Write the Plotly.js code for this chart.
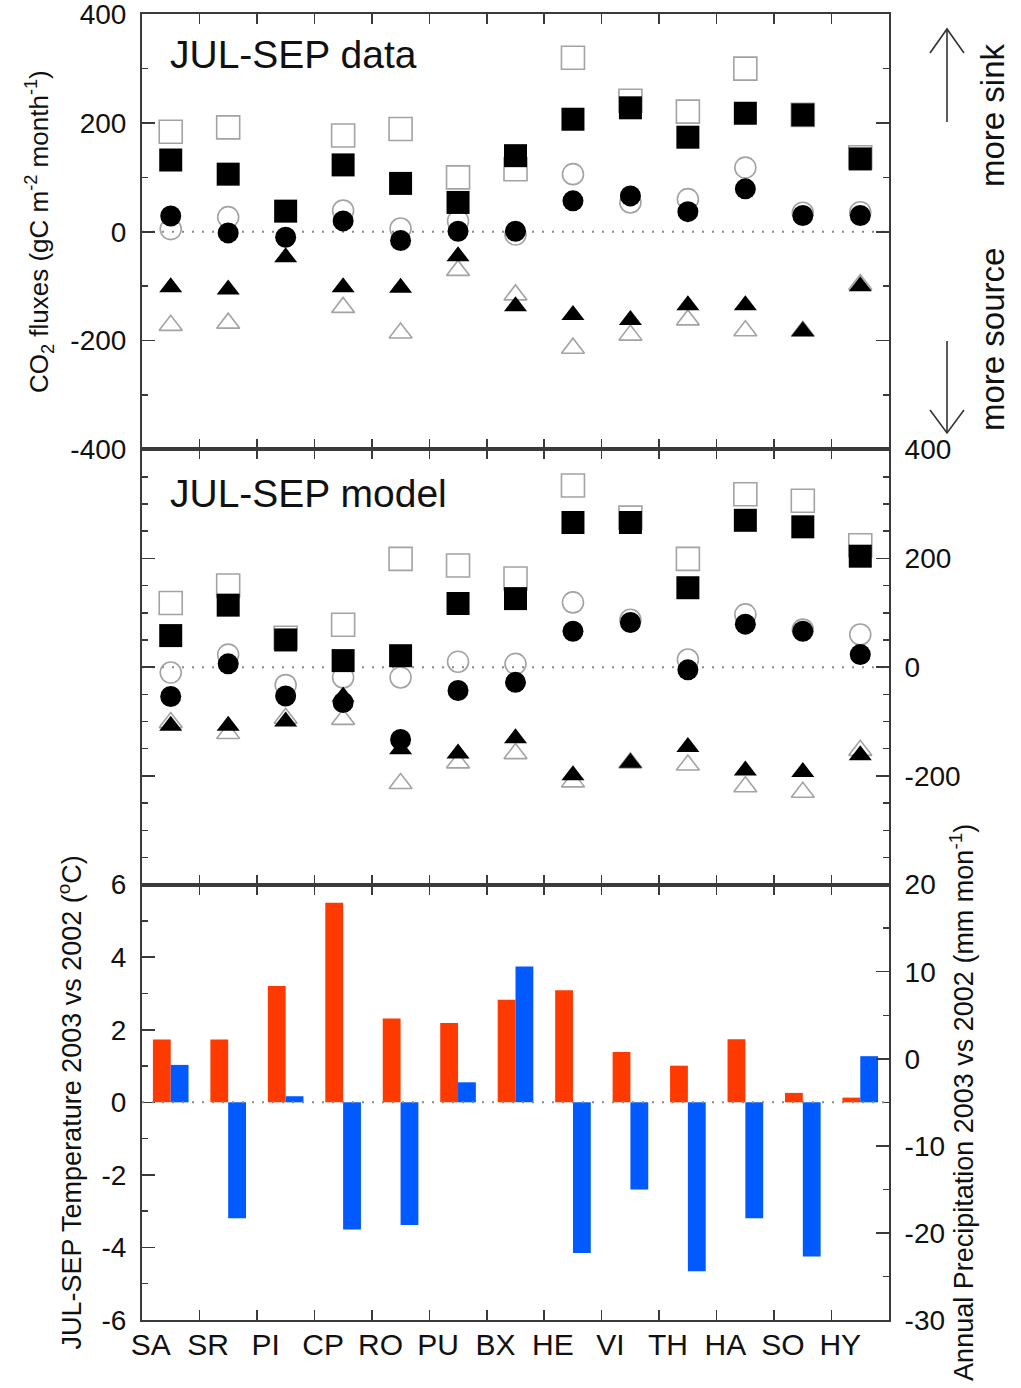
<!DOCTYPE html>
<html><head><meta charset="utf-8">
<script src="https://cdn.plot.ly/plotly-3.0.1.min.js"></script>
<style>html,body{margin:0;padding:0;background:#fff}</style>
</head><body>
<div id="chart" style="width:1021px;height:1388px"></div>
<script>
// ---- data ----
const sites = ['SA','SR','PI','CP','RO','PU','BX','HE','VI','TH','HA','SO','HY'];

// JUL-SEP data (gC m-2 month-1); open = 2002, filled = 2003
const dataSquareOpen   = [184, 192, null, 177, 189, 100, 115, 320, 241, 221, 300, 215, 137];
const dataSquareFilled = [132, 106, 38, 123, 89, 54, 140, 207, 228, 174, 218, 215, 134];
const dataCircleOpen   = [5, 27, null, 39, 6, 20, -5, 106, 54, 60, 118, 35, 36];
const dataCircleFilled = [29, -2, -10, 20, -16, 1, 1, 57, 66, 37, 79, 30, 30];
const dataTriOpen      = [-172, -168, null, -139, -186, -71, -116, -214, -190, -162, -182, -183, -97];
const dataTriFilled    = [-102, -106, -47, -102, -103, -45, -137, -153, -162, -135, -135, -183, -100];

// JUL-SEP model
const modelSquareOpen   = [118, 150, 54, 78, 199, 187, 163, 334, 275, 199, 318, 306, 224];
const modelSquareFilled = [58, 114, 50, 12, 21, 117, 126, 266, 266, 146, 270, 258, 204];
const modelCircleOpen   = [-10, 23, -33, -19, -19, 10, 6, 119, 87, 14, 97, 69, 60];
const modelCircleFilled = [-54, 6, -53, -65, -133, -43, -28, 66, 82, -5, 79, 66, 23];
const modelTriOpen      = [-102, -122, -94, -96, -214, -176, -159, -211, -176, -180, -220, -230, -153];
const modelTriFilled    = [-108, -108, -100, -54, -151, -159, -131, -199, -176, -147, -190, -193, -162];

// Anomalies 2003 vs 2002
const tempAnomaly   = [1.73, 1.73, 3.21, 5.5, 2.31, 2.19, 2.83, 3.09, 1.39, 1.01, 1.74, 0.26, 0.13];
const precipAnomaly = [-0.7, -18.3, -4.3, -19.6, -19.1, -2.7, 10.6, -22.3, -15.0, -24.4, -18.3, -22.7, 0.3];
const precipBase = -5; // precipitation bars are drawn from the temperature zero line

// tick values
const fluxTicksLeft  = [-400, -200, 0, 200, 400];
const fluxTicksRight = [-200, 0, 200, 400];
const tempTicks      = [-6, -4, -2, 0, 2, 4, 6];
const precipTicks    = [-30, -20, -10, 0, 10, 20];
const lbl = arr => arr.map(v => String(v)); // plain hyphen-minus labels

// ---- styling ----
const FONT = 'Liberation Sans, Arial, Helvetica, sans-serif';
const AX = '#3a3a3a';
const GRAY = '#a3a3a3';
const W = 1021, H = 1388, L = 142, R = 132, T = 14, B = 68;
const PW = W - L - R, PH = H - T - B;
const px = x => (x - L) / PW;
const py = y => (H - B - y) / PH;

function sc(y, xa, ya, symbol, open, size) {
  return {
    type: 'scatter', mode: 'markers', x: sites, y: y, xaxis: xa, yaxis: ya,
    cliponaxis: false, hoverinfo: 'skip', showlegend: false,
    marker: open
      ? {symbol: symbol + '-open', size: size, color: GRAY, line: {color: GRAY, width: 1.6}}
      : {symbol: symbol, size: size, color: '#000', line: {color: '#000', width: 0}}
  };
}

const traces = [
  sc(dataSquareOpen, 'x2', 'y', 'square', true, 23),
  sc(dataCircleOpen, 'x2', 'y', 'circle', true, 21),
  sc(dataTriOpen, 'x2', 'y', 'triangle-up', true, 20),
  sc(dataSquareFilled, 'x2', 'y', 'square', false, 23),
  sc(dataCircleFilled, 'x2', 'y', 'circle', false, 21),
  sc(dataTriFilled, 'x2', 'y', 'triangle-up', false, 20),
  sc(modelSquareOpen, 'x3', 'y2', 'square', true, 23),
  sc(modelCircleOpen, 'x3', 'y2', 'circle', true, 21),
  sc(modelTriOpen, 'x3', 'y2', 'triangle-up', true, 20),
  sc(modelSquareFilled, 'x3', 'y2', 'square', false, 23),
  sc(modelCircleFilled, 'x3', 'y2', 'circle', false, 21),
  sc(modelTriFilled, 'x3', 'y2', 'triangle-up', false, 20),
  {type: 'bar', x: sites, y: tempAnomaly, xaxis: 'x', yaxis: 'y3',
   offset: -0.31, width: 0.31, marker: {color: '#ff3a00', line: {width: 0}},
   hoverinfo: 'skip', showlegend: false},
  {type: 'bar', x: sites, y: precipAnomaly.map(v => v - precipBase), base: precipBase,
   xaxis: 'x', yaxis: 'y4',
   offset: 0, width: 0.31, marker: {color: '#005aff', line: {width: 0}},
   hoverinfo: 'skip', showlegend: false}
];

const tickFont = {family: FONT, size: 28, color: '#111'};
const titleFont = {family: FONT, size: 27, color: '#111'};

const commonX = {
  type: 'category', categoryarray: sites, categoryorder: 'array', range: [-0.5, 12.5],
  showline: true, linecolor: AX, linewidth: 2, mirror: 'ticks',
  ticks: 'inside', tickson: 'boundaries', ticklen: 10, tickcolor: AX, tickwidth: 1.5,
  showgrid: false, zeroline: false, fixedrange: true
};
const commonY = {
  showline: true, linecolor: AX, linewidth: 2,
  ticks: 'inside', ticklen: 13, tickcolor: AX, tickwidth: 1.5,
  showgrid: false, zeroline: false, tickfont: tickFont, fixedrange: true,
  automargin: false, ticklabeloverflow: 'allow'
};

const layout = {
  width: W, height: H,
  margin: {l: L, r: R, t: T, b: B, pad: 0},
  paper_bgcolor: '#fff', plot_bgcolor: '#fff',
  font: {family: FONT, color: '#111'},
  barmode: 'overlay',
  showlegend: false,
  xaxis: Object.assign({}, commonX, {
    anchor: 'y3', showticklabels: true,
    tickfont: {family: FONT, size: 30, color: '#111'},
    ticklabelshift: -20, ticklabelstandoff: -3
  }),
  xaxis2: Object.assign({}, commonX, {anchor: 'y', matches: 'x', showticklabels: false}),
  xaxis3: Object.assign({}, commonX, {anchor: 'y2', matches: 'x', showticklabels: false}),
  yaxis: Object.assign({}, commonY, {
    domain: [2/3, 1], anchor: 'x2', range: [-400, 400.5],
    tickvals: fluxTicksLeft, ticktext: lbl(fluxTicksLeft), mirror: 'ticks', ticklabelstandoff: 8,
    minor: {tick0: 0, dtick: 100, ticks: 'inside', ticklen: 6, tickcolor: AX, tickwidth: 1.5, showgrid: false},
    title: {text: 'CO<sub>2</sub> fluxes (gC m<sup>-2</sup> month<sup>-1</sup>)', font: {family: FONT, size: 26, color: '#111'}, standoff: 14}
  }),
  yaxis2: Object.assign({}, commonY, {
    domain: [1/3, 2/3], anchor: 'x3', side: 'right', range: [-400, 400.5],
    tickvals: fluxTicksRight, ticktext: lbl(fluxTicksRight), mirror: 'ticks', ticklabelstandoff: 8,
    minor: {tick0: 0, dtick: 50, ticks: 'inside', ticklen: 6, tickcolor: AX, tickwidth: 1.5, showgrid: false}
  }),
  yaxis3: Object.assign({}, commonY, {
    domain: [0, 1/3], anchor: 'x', range: [-6, 6],
    tickvals: tempTicks, ticktext: lbl(tempTicks), ticklabelstandoff: 8,
    minor: {tick0: 0, dtick: 1, ticks: 'inside', ticklen: 6, tickcolor: AX, tickwidth: 1.5, showgrid: false},
    title: {text: 'JUL-SEP Temperature 2003 vs 2002 (<sup>o</sup>C)', font: titleFont, standoff: 12}
  }),
  yaxis4: Object.assign({}, commonY, {
    overlaying: 'y3', anchor: 'x', side: 'right', range: [-30, 20],
    tickvals: precipTicks, ticktext: lbl(precipTicks), ticklabelstandoff: 8,
    minor: {tick0: 0, dtick: 5, ticks: 'inside', ticklen: 6, tickcolor: AX, tickwidth: 1.5, showgrid: false},
    title: {text: 'Annual Precipitation 2003 vs 2002 (mm mon<sup>-1</sup>)', font: titleFont, standoff: 4}
  }),
  shapes: [
    {type: 'line', xref: 'paper', x0: 0, x1: 1, yref: 'y', y0: 0, y1: 0, layer: 'below',
     line: {color: '#8a8a8a', width: 2, dash: '2px,8px'}},
    {type: 'line', xref: 'paper', x0: 0, x1: 1, yref: 'y2', y0: 0, y1: 0, layer: 'below',
     line: {color: '#8a8a8a', width: 2, dash: '2px,8px'}},
    {type: 'line', xref: 'paper', x0: 0, x1: 1, yref: 'y3', y0: 0, y1: 0, layer: 'above',
     line: {color: '#8a8a8a', width: 2, dash: '2px,8px'}},
    // up arrow (more sink)
    {type: 'line', xref: 'paper', yref: 'paper', x0: px(947), x1: px(947), y0: py(122), y1: py(30),
     line: {color: '#333', width: 1.6}},
    {type: 'path', xref: 'paper', yref: 'paper',
     path: `M ${px(930)} ${py(53)} L ${px(947)} ${py(29)} L ${px(964)} ${py(53)}`,
     line: {color: '#333', width: 1.6}},
    // down arrow (more source)
    {type: 'line', xref: 'paper', yref: 'paper', x0: px(947), x1: px(947), y0: py(341), y1: py(432),
     line: {color: '#333', width: 1.6}},
    {type: 'path', xref: 'paper', yref: 'paper',
     path: `M ${px(930)} ${py(410)} L ${px(947)} ${py(433)} L ${px(964)} ${py(410)}`,
     line: {color: '#333', width: 1.6}}
  ],
  annotations: [
    {text: 'JUL-SEP data', xref: 'paper', yref: 'paper', x: px(168), y: py(55),
     xanchor: 'left', yanchor: 'middle', showarrow: false,
     font: {family: FONT, size: 39, color: '#111'}},
    {text: 'JUL-SEP model', xref: 'paper', yref: 'paper', x: px(168), y: py(494),
     xanchor: 'left', yanchor: 'middle', showarrow: false,
     font: {family: FONT, size: 39, color: '#111'}},
    {text: 'more sink', xref: 'paper', yref: 'paper', x: px(992), y: py(115),
     xanchor: 'center', yanchor: 'middle', textangle: -90, showarrow: false,
     font: {family: FONT, size: 33, color: '#111'}},
    {text: 'more source', xref: 'paper', yref: 'paper', x: px(992), y: py(340),
     xanchor: 'center', yanchor: 'middle', textangle: -90, showarrow: false,
     font: {family: FONT, size: 33, color: '#111'}}
  ]
};

Plotly.newPlot('chart', traces, layout, {staticPlot: true, displayModeBar: false});
</script>
</body></html>
